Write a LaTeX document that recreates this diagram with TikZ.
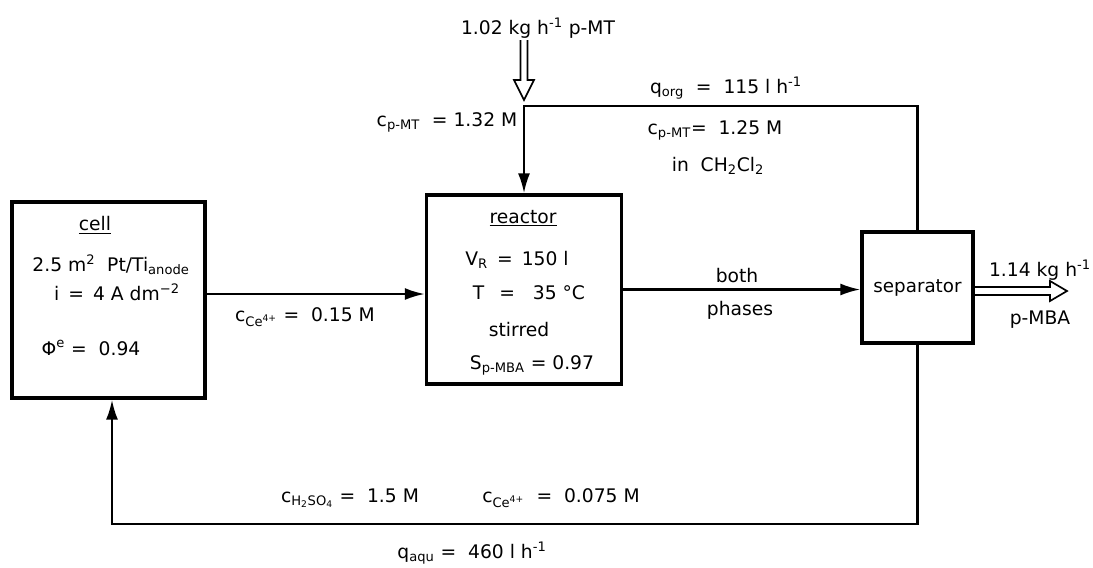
\documentclass[tikz,border=0pt]{standalone}
\usepackage{fontspec}
\setmainfont{DejaVu Sans}
\usetikzlibrary{arrows.meta,positioning,calc}

\begin{document}
\begin{tikzpicture}[
    x=0.025cm, y=-0.025cm,
    >={Latex[length=0.5cm,width=0.3cm]},
    font=\fontsize{13.3}{15}\selectfont,
    unit/.style={draw, line width=2.3pt, inner sep=0pt},
    flow/.style={line width=1.7pt},
    txt/.style={inner sep=1pt},
    hollow/.style={line width=1.2pt, line join=miter}
]
\useasboundingbox (0,0) rectangle (1093,567);

% units
\node[unit, minimum width=4.825cm, minimum height=4.9cm] (cell) at (108.5,300) {};
\node[unit, minimum width=4.875cm, minimum height=4.725cm] (reactor) at (524,289.5) {};
\node[unit, minimum width=2.775cm, minimum height=2.775cm, font=\fontsize{13}{15}\selectfont] (separator) at (917.5,287.5) {separator};

% cell text
\node[txt] (celltitle) at (95,225) {\underline{cell}};
\node[txt] (cellarea) at (111,265) {2.5 m\textsuperscript{2}\ \ Pt/Ti\textsubscript{anode}};
\node[txt] (cellcurrent) at (117,292) {i\ \,=\ \,4 A dm\textsuperscript{−2}};
\node[txt] (celleff) at (91,348) {Φ\textsuperscript{e} = \ 0.94};

% reactor text
\node[txt] (reacttitle) at (523,218) {\underline{reactor}};
\node[txt] (reactvol) at (517,260) {V\textsubscript{R}\ \,=\ \,150 l};
\node[txt] (reacttemp) at (529,293) {T\ \ \,=\ \ \ 35 °C};
\node[txt] (reactstir) at (519,330) {stirred};
\node[txt] (reactsel) at (532,365) {S\textsubscript{p-MBA}\ = 0.97};

% streams
\coordinate (cellout) at (205,294);
\draw[flow,->] (cellout) -- (cellout -| reactor.west);
\draw[flow,->] (reactor.east) -- (reactor.east -| separator.west);
\coordinate (orgbend) at (524,106);
\draw[flow,->] (separator.north) |- (orgbend) -- (reactor.north);
\coordinate (aqubend) at (112,524);
\draw[flow,->] (separator.south) |- (aqubend) -- (aqubend |- cell.south);

% feed and product (hollow arrows)
\coordinate (feedtip) at (524,100);
\draw[hollow] ($(feedtip)+(-3.5,-60)$) -- ($(feedtip)+(-3.5,-20)$) -- ($(feedtip)+(-10,-20)$)
    -- (feedtip) -- ($(feedtip)+(10,-20)$) -- ($(feedtip)+(3.5,-20)$) -- ($(feedtip)+(3.5,-60)$);
\coordinate (prodtip) at (1067,291);
\draw[hollow] (separator.east |- 0,287) -- ($(prodtip)+(-17,-4)$) -- ($(prodtip)+(-17,-10)$)
    -- (prodtip) -- ($(prodtip)+(-17,10)$) -- ($(prodtip)+(-17,4)$) -- (separator.east |- 0,295);

% stream labels
\node[txt] (feedlbl) at (538,28) {1.02 kg h\textsuperscript{-1} p-MT};
\node[txt] (pmtin) at (447,122) {c\textsubscript{p-MT}\ \ = 1.32 M};
\node[txt] (ceout) at (305,317) {c\textsubscript{Ce\textsuperscript{4+}}\ = \ 0.15 M};
\node[txt] (qorg) at (726,88) {q\textsubscript{org}\ \ = \ 115 l h\textsuperscript{-1}};
\node[txt] (pmtrec) at (715,130) {c\textsubscript{p-MT}= \ 1.25 M};
\node[txt] (solvent) at (718,166) {in\ \ CH\textsubscript{2}Cl\textsubscript{2}};
\node[txt] (both) at (737,276) {both};
\node[txt] (phases) at (740,310) {phases};
\node[txt] (prodrate) at (1040,270) {1.14 kg h\textsuperscript{-1}};
\node[txt] (prodname) at (1040,320) {p-MBA};
\node[txt] (acid) at (350,498) {c\textsubscript{H\textsubscript{2}SO\textsubscript{4}}\ = \ 1.5 M};
\node[txt] (cerec) at (561,498) {c\textsubscript{Ce\textsuperscript{4+}}\ \ = \ 0.075 M};
\node[txt] (qaqu) at (472,553) {q\textsubscript{aqu}\ = \ 460 l h\textsuperscript{-1}};
\end{tikzpicture}
\end{document}
